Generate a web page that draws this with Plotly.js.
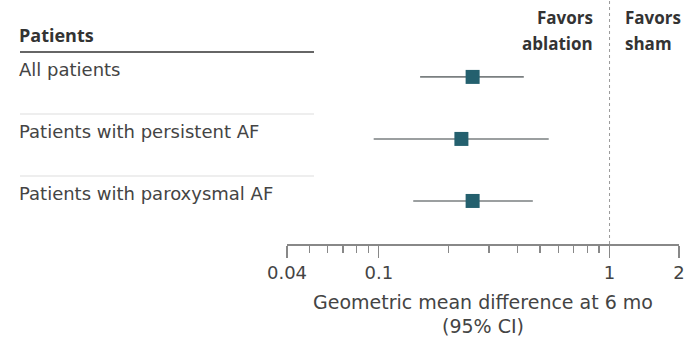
<!DOCTYPE html>
<html>
<head>
<meta charset="utf-8">
<script src="https://cdn.plot.ly/plotly-3.0.1.min.js"></script>
<style>html,body{margin:0;padding:0;background:#fff;}#chart{width:690px;height:340px;}</style>
</head>
<body>
<div id="chart"></div>
<script>
const categories = ["All patients", "Patients with persistent AF", "Patients with paroxysmal AF"];
const estimates = [0.255, 0.228, 0.255];
const lowerCI = [0.151, 0.095, 0.141];
const upperCI = [0.425, 0.545, 0.465];
const rowPos = [3, 2, 1];
const majorTicks = [0.04, 0.1, 1, 2];
const majorLabels = ["0.04", "0.1", "1", "2"];
const minorTicks = [0.05, 0.06, 0.07, 0.08, 0.09, 0.2, 0.3, 0.4, 0.5, 0.6, 0.7, 0.8, 0.9];

const FONT = "DejaVu Sans, sans-serif";
const BFONT = "Open Sans, sans-serif";
const TXT = "#444";
const W = 690, H = 340;
const L = 287, R = 679;
const PH = 244;

const traces = [];
categories.forEach((c, i) => {
  traces.push({
    type: "scatter", mode: "lines",
    x: [lowerCI[i], upperCI[i]], y: [rowPos[i], rowPos[i]],
    line: {color: "#7a7f80", width: 1.6},
    hoverinfo: "skip", showlegend: false
  });
});
traces.push({
  type: "scatter", mode: "markers",
  x: estimates, y: rowPos,
  marker: {symbol: "square", size: 14, color: "#24606e"},
  showlegend: false
});

const annotations = categories.map((c, i) => ({
  text: c, xref: "paper", yref: "y", x: 17 / W, y: rowPos[i],
  xanchor: "left", yanchor: "middle", yshift: 7, showarrow: false,
  font: {family: FONT, size: 18, color: TXT}
}));
annotations.push({
  text: "<b>Patients</b>", xref: "paper", yref: "paper", x: 17 / W, y: (PH - 35) / PH,
  xanchor: "left", yanchor: "middle", showarrow: false,
  font: {family: BFONT, size: 18, color: "#333"}
});
[["Favors", 17], ["ablation", 44]].forEach(([t, py]) => annotations.push({
  text: "<b>" + t + "</b>", xref: "x", yref: "paper", x: 0, xshift: -15,
  y: (PH - py) / PH, xanchor: "right", yanchor: "middle", showarrow: false,
  font: {family: BFONT, size: 17, color: "#333"}
}));
[["Favors", 17], ["sham", 44]].forEach(([t, py]) => annotations.push({
  text: "<b>" + t + "</b>", xref: "x", yref: "paper", x: 0, xshift: 13,
  y: (PH - py) / PH, xanchor: "left", yanchor: "middle", showarrow: false,
  font: {family: BFONT, size: 17, color: "#333"}
}));

const shapes = [
  {type: "line", xref: "paper", yref: "paper", x0: 20 / W, x1: 314 / W, y0: (PH - 52) / PH, y1: (PH - 52) / PH,
   line: {color: "#666", width: 2}},
  {type: "line", xref: "paper", yref: "paper", x0: 20 / W, x1: 314 / W, y0: (PH - 114) / PH, y1: (PH - 114) / PH,
   line: {color: "#ddd", width: 1}},
  {type: "line", xref: "paper", yref: "paper", x0: 20 / W, x1: 314 / W, y0: (PH - 176) / PH, y1: (PH - 176) / PH,
   line: {color: "#ddd", width: 1}},
  {type: "line", xref: "x", yref: "paper", x0: 1, x1: 1, y0: 0, y1: 1,
   line: {color: "#999", width: 1, dash: "dot"}}
];

const layout = {
  width: W, height: H,
  margin: {l: 0, r: 0, t: 0, b: H - PH, pad: 0},
  paper_bgcolor: "#fff", plot_bgcolor: "#fff",
  font: {family: FONT, size: 18, color: TXT},
  xaxis: {
    type: "log", domain: [L / W, R / W],
    range: [Math.log10(0.04), Math.log10(2)],
    tickmode: "array", tickvals: majorTicks, ticktext: majorLabels,
    ticks: "outside", ticklen: 12, tickwidth: 1.3, tickcolor: "#888",
    minor: {tickmode: "array", tickvals: minorTicks, ticks: "outside", ticklen: 7, tickwidth: 1.3, tickcolor: "#888", showgrid: false},
    showline: true, linecolor: "#888", linewidth: 1.5,
    showgrid: false, zeroline: false,
    tickfont: {family: FONT, size: 18, color: TXT},
    title: {text: "Geometric mean difference at 6 mo<br>(95% CI)", font: {family: FONT, size: 19, color: TXT}, standoff: 13},
    fixedrange: true
  },
  yaxis: {
    range: [0.306, 4.24], showgrid: false, zeroline: false, showline: false,
    showticklabels: false, ticks: "", fixedrange: true
  },
  shapes: shapes,
  annotations: annotations,
  showlegend: false
};

Plotly.newPlot("chart", traces, layout, {displayModeBar: false, staticPlot: true});
</script>
</body>
</html>
